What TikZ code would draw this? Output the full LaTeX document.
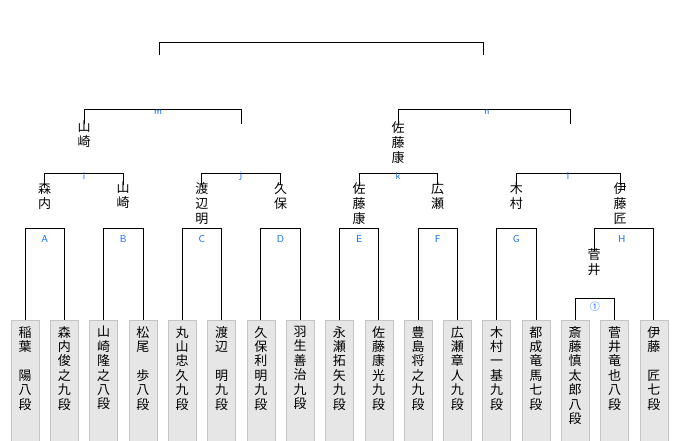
\documentclass[tikz,border=0pt]{standalone}
\usepackage{fontspec}
\newfontfamily\cjk{Noto Sans CJK JP}
\definecolor{lbl}{HTML}{0066FF}
\definecolor{boxf}{HTML}{E6E6E6}
\definecolor{boxd}{HTML}{C4C4C4}
\begin{document}
\begin{tikzpicture}[x=1pt,y=-1pt,
  vname/.style={font=\cjk\fontsize{13}{15}\selectfont,align=center,inner sep=0pt,anchor=north},
  pbox/.style={draw=boxd,fill=boxf,minimum width=28pt,minimum height=121pt,anchor=north,inner sep=0pt},
  ptext/.style={font=\cjk\fontsize{13}{14.4}\selectfont,align=center,inner sep=0pt,anchor=north},
  blab/.style={text=lbl,font=\sffamily\fontsize{10}{10}\selectfont,inner sep=0pt},
  ln/.style={black,line width=0.8pt}]
\useasboundingbox (0,0) rectangle (680,440);
% players
\foreach \i/\t in {1/稲\\葉\\　\\陽\\八\\段, 2/森\\内\\俊\\之\\九\\段, 3/山\\崎\\隆\\之\\八\\段, 4/松\\尾\\　\\歩\\八\\段,
  5/丸\\山\\忠\\久\\九\\段, 6/渡\\辺\\　\\明\\九\\段, 7/久\\保\\利\\明\\九\\段, 8/羽\\生\\善\\治\\九\\段,
  9/永\\瀬\\拓\\矢\\九\\段, 10/佐\\藤\\康\\光\\九\\段, 11/豊\\島\\将\\之\\九\\段, 12/広\\瀬\\章\\人\\九\\段,
  13/木\\村\\一\\基\\九\\段, 14/都\\成\\竜\\馬\\七\\段, 15/斎\\藤\\慎\\太\\郎\\八\\段, 16/菅\\井\\竜\\也\\八\\段, 17/伊\\藤\\　\\匠\\七\\段}{
  \node[pbox] (b\i) at ({25+39.3*(\i-1)},320) {};
  \node[ptext] (t\i) at ({25+39.3*(\i-1)},326) {\t};
}
% first round brackets
\foreach \a/\b/\l/\m in {1/2/A/44.6, 3/4/B/123.2, 5/6/C/201.8, 7/8/D/280.5, 9/10/E/359, 11/12/F/437.6, 13/14/G/516.3}{
  \draw[ln] (b\a.north) -- ++(0,-92) -| (b\b.north);
  \node[blab] (L\l) at (\m,239) {\l};
}
% 1 bracket
\draw[ln] (b15.north) -- ++(0,-22) -| (b16.north);
\node[blab,font=\cjk\fontsize{10}{10}\selectfont] (L1) at (594.9,307) {①};
% H bracket
\node[vname] (wH) at (594,248) {菅\\井};
\draw[ln] ([yshift=-3pt]wH.north) -- (594,228) -| (b17.north);
\node[blab] (LH) at (622,239) {H};
% second level names
\node[vname] (wA) at (44.6,182) {森\\内};
\node[vname] (wB) at (123.2,182) {山\\崎};
\node[vname] (wC) at (201.8,182) {渡\\辺\\明};
\node[vname] (wD) at (280.5,182) {久\\保};
\node[vname] (wE) at (359,182) {佐\\藤\\康};
\node[vname] (wF) at (437.6,182) {広\\瀬};
\node[vname] (wG) at (516.3,182) {木\\村};
\node[vname] (wHH) at (620,182) {伊\\藤\\匠};
\foreach \a/\b in {A/B, C/D, E/F, G/HH}{
  \draw[ln] ([yshift=-3pt]w\a.north) -- ++(0,-12) -| ([yshift=-3pt]w\b.north);
}
\node[blab] (Li) at (84,176) {i};
\node[blab] (Lj) at (241,176) {j};
\node[blab] (Lk) at (398,176) {k};
\node[blab] (Ll) at (568,176) {l};
% third level
\node[vname] (wi) at (84,121) {山\\崎};
\node[vname] (wj) at (241,121) {};
\node[vname] (wk) at (398,121) {佐\\藤\\康};
\node[vname] (wl) at (570,121) {};
\draw[ln] ([yshift=-3pt]wi.north) -- ++(0,-15) -| ([yshift=-3pt]wj.north);
\draw[ln] ([yshift=-3pt]wk.north) -- ++(0,-15) -| ([yshift=-3pt]wl.north);
\node[blab] (Lm) at (158,112) {m};
\node[blab] (Ln) at (487,112) {n};
% final
\coordinate (fm) at (159,55);
\coordinate (fn) at (483,55);
\draw[ln] (fm) -- (159,42) -| (fn);
\end{tikzpicture}
\end{document}
